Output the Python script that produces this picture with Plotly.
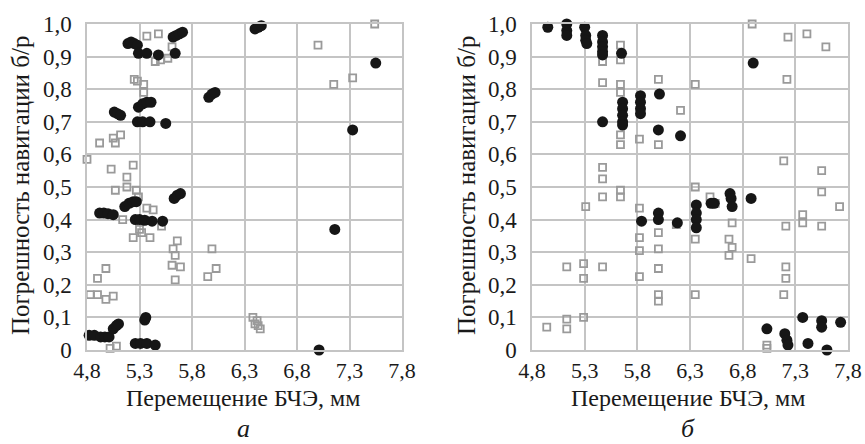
import plotly.graph_objects as go

# ---- Panel a ----
a_black_x = [5.19, 5.22, 5.25, 5.28, 5.29, 5.37, 5.48, 5.64, 5.62, 5.65, 5.68, 5.71,
             5.96, 5.99, 6.02, 5.06, 5.09, 5.12, 5.29, 5.33, 5.37, 5.41, 5.28, 5.33, 5.40, 5.55,
             5.63, 5.66, 5.69, 4.92, 4.96, 5.00, 5.05, 5.16, 5.20, 5.24, 5.27,
             5.26, 5.30, 5.35, 5.42, 5.52, 4.82, 4.87, 4.93, 4.97, 5.01, 5.05, 5.08, 5.10,
             5.35, 5.36, 5.26, 5.31, 5.37, 5.45, 6.40, 6.43, 6.46, 7.55, 7.33, 7.16, 7.01]
a_black_y = [0.94, 0.945, 0.94, 0.935, 0.91, 0.91, 0.905, 0.91, 0.96, 0.965, 0.97, 0.975,
             0.775, 0.785, 0.79, 0.73, 0.725, 0.72, 0.745, 0.755, 0.76, 0.76, 0.70, 0.70, 0.70, 0.695,
             0.465, 0.475, 0.48, 0.42, 0.42, 0.418, 0.415, 0.44, 0.45, 0.455, 0.455,
             0.40, 0.40, 0.398, 0.395, 0.395, 0.045, 0.045, 0.04, 0.04, 0.04, 0.065, 0.075, 0.08,
             0.092, 0.10, 0.02, 0.02, 0.02, 0.015, 0.985, 0.99, 0.995, 0.88, 0.675, 0.37, 0.0]
a_gray_x = [5.37, 5.48, 5.61, 5.45, 5.50, 5.57, 5.25, 5.28, 5.34, 5.34, 4.92, 5.05, 5.07, 5.12,
            4.80, 5.03, 5.24, 5.18, 5.07, 5.18, 5.27, 5.29, 5.14, 5.37, 5.43, 5.51, 5.30, 5.24,
            5.40, 5.32, 5.66, 5.62, 5.64, 5.61, 5.69, 5.64, 5.99, 6.03, 5.95, 4.98, 4.90, 4.83,
            4.90, 4.98, 5.05, 5.02, 5.08, 6.38, 6.42, 6.43, 6.45, 6.40, 7.54, 7.00, 7.33, 7.15]
a_gray_y = [0.963, 0.97, 0.93, 0.885, 0.89, 0.895, 0.83, 0.825, 0.815, 0.79, 0.635, 0.65, 0.635, 0.66,
            0.585, 0.555, 0.567, 0.53, 0.49, 0.50, 0.49, 0.47, 0.40, 0.435, 0.43, 0.38, 0.37, 0.345,
            0.345, 0.36, 0.335, 0.31, 0.29, 0.26, 0.255, 0.215, 0.31, 0.25, 0.225, 0.25, 0.22, 0.17,
            0.17, 0.155, 0.165, 0.005, 0.012, 0.10, 0.09, 0.075, 0.065, 0.08, 1.0, 0.935, 0.835, 0.815]

# ---- Panel b ----
b_black_x = [4.95, 5.13, 5.13, 5.13, 5.30, 5.31, 5.31, 5.32, 5.47, 5.47, 5.47, 5.47, 5.47, 5.65,
             5.47, 5.66, 5.66, 5.66, 5.66, 5.66, 5.83, 5.83, 5.83, 5.83, 6.01, 6.00, 6.21,
             5.84, 6.00, 6.00, 6.18, 6.36, 6.36, 6.36, 6.36, 6.50, 6.53, 6.68, 6.69, 6.70, 6.88,
             6.90, 7.03, 7.20, 7.22, 7.23, 7.37, 7.42, 7.55, 7.55, 7.60, 7.73]
b_black_y = [0.99, 1.0, 0.98, 0.965, 0.99, 0.965, 0.95, 0.94, 0.965, 0.945, 0.93, 0.915, 0.905, 0.91,
             0.70, 0.76, 0.74, 0.72, 0.70, 0.69, 0.78, 0.76, 0.74, 0.725, 0.785, 0.675, 0.657,
             0.395, 0.42, 0.40, 0.39, 0.445, 0.42, 0.40, 0.375, 0.45, 0.45, 0.48, 0.465, 0.44, 0.465,
             0.88, 0.065, 0.05, 0.03, 0.015, 0.10, 0.02, 0.09, 0.07, 0.0, 0.085]
b_gray_x = [5.64, 5.64, 5.47, 5.47, 5.64, 5.64, 6.00, 6.21, 5.64, 5.64, 5.82, 6.00, 5.47, 5.47,
            5.47, 5.64, 5.64, 5.31, 5.82, 5.82, 5.82, 6.00, 6.00, 6.00, 6.00, 6.00, 5.82, 5.13,
            5.29, 5.29, 5.47, 4.94, 5.13, 5.13, 5.29, 6.17, 6.35, 6.49, 6.54, 6.70, 6.35, 6.67,
            6.70, 6.67, 6.88, 6.35, 7.21, 7.37, 7.37, 7.55, 7.55, 7.55, 7.72, 7.21, 7.21, 7.19,
            7.03, 7.03, 6.89, 7.23, 7.41, 7.59, 7.22, 6.35, 7.19]
b_gray_y = [0.935, 0.89, 0.885, 0.82, 0.815, 0.79, 0.83, 0.735, 0.66, 0.63, 0.647, 0.63, 0.56, 0.525,
            0.47, 0.49, 0.47, 0.44, 0.435, 0.345, 0.305, 0.36, 0.31, 0.25, 0.17, 0.15, 0.225, 0.255,
            0.265, 0.22, 0.255, 0.07, 0.095, 0.065, 0.10, 0.385, 0.50, 0.47, 0.45, 0.39, 0.34, 0.34,
            0.315, 0.29, 0.28, 0.17, 0.38, 0.415, 0.39, 0.38, 0.485, 0.55, 0.44, 0.255, 0.22, 0.17,
            0.015, 0.005, 1.0, 0.96, 0.97, 0.93, 0.83, 0.815, 0.58]

x_ticks = [4.8, 5.3, 5.8, 6.3, 6.8, 7.3, 7.8]
x_tick_labels = ["4,8", "5,3", "5,8", "6,3", "6,8", "7,3", "7,8"]
y_ticks = [0, 0.1, 0.2, 0.3, 0.4, 0.5, 0.6, 0.7, 0.8, 0.9, 1.0]
y_tick_labels = ["0", "0,1", "0,2", "0,3", "0,4", "0,5", "0,6", "0,7", "0,8", "0,9", "1,0"]

x_title = "Перемещение БЧЭ, мм"
y_title = "Погрешность навигации б/р"
panel_labels = ["а", "б"]

FONT = "Liberation Serif"
GRAY = "#9a9a9a"
BLACK = "#161616"
GRID = "#c4c4c4"
TXT = "#1a1a1a"

fig = go.Figure()

def add_panel(bx, by, gx, gy, xa, ya):
    fig.add_trace(go.Scatter(x=gx, y=gy, mode="markers", xaxis=xa, yaxis=ya,
                             marker=dict(symbol="square-open", size=7, color=GRAY,
                                         line=dict(width=1.8, color=GRAY)),
                             cliponaxis=False, showlegend=False))
    fig.add_trace(go.Scatter(x=bx, y=by, mode="markers", xaxis=xa, yaxis=ya,
                             marker=dict(symbol="circle", size=11, color=BLACK,
                                         line=dict(width=0)),
                             cliponaxis=False, showlegend=False))

add_panel(a_black_x, a_black_y, a_gray_x, a_gray_y, "x", "y")
add_panel(b_black_x, b_black_y, b_gray_x, b_gray_y, "x2", "y2")

ax_common = dict(range=[4.8, 7.8], tickvals=x_ticks, ticktext=x_tick_labels,
                 showgrid=True, gridcolor=GRID, gridwidth=1.5, zeroline=False,
                 showline=True, linecolor=GRID, linewidth=1.5, mirror=True,
                 automargin=False, ticks="", ticklabelstandoff=0,
                 tickfont=dict(family=FONT, size=22, color=TXT))
ay_common = dict(range=[0, 1.0], tickvals=y_ticks, ticktext=y_tick_labels,
                 showgrid=True, gridcolor=GRID, gridwidth=1.5, zeroline=False,
                 showline=True, linecolor=GRID, linewidth=1.5, mirror=True,
                 automargin=False, ticks="", ticklabelstandoff=9,
                 tickfont=dict(family=FONT, size=23, color=TXT))

W, H = 865, 444
dom_y = [1 - 350 / H, 1 - 24 / H]
fig.update_layout(
    template="none",
    width=W, height=H,
    margin=dict(l=0, r=0, t=0, b=0, autoexpand=False),
    paper_bgcolor="white", plot_bgcolor="white",
    font=dict(family=FONT, color=TXT),
    xaxis=dict(domain=[87 / W, 402 / W], anchor="y", **ax_common),
    yaxis=dict(domain=dom_y, anchor="x", **ay_common),
    xaxis2=dict(domain=[532 / W, 848 / W], anchor="y2", **ax_common),
    yaxis2=dict(domain=dom_y, anchor="x2", **ay_common),
)

for cx, ytx, lab in [(243, 21, panel_labels[0]), (688, 467, panel_labels[1])]:
    fig.add_annotation(x=cx / W, y=1 - 398 / H, xref="paper", yref="paper",
                       xanchor="center", yanchor="middle",
                       text=x_title, showarrow=False,
                       font=dict(family=FONT, size=24, color=TXT))
    fig.add_annotation(x=cx / W, y=1 - 428 / H, xref="paper", yref="paper",
                       xanchor="center", yanchor="middle",
                       text="<i>" + lab + "</i>", showarrow=False,
                       font=dict(family=FONT, size=26, color=TXT))
    fig.add_annotation(x=ytx / W, y=1 - 186 / H, xref="paper", yref="paper",
                       xanchor="center", yanchor="middle",
                       text=y_title, showarrow=False, textangle=-90,
                       font=dict(family=FONT, size=25, color=TXT))

fig.write_html("out.html")
